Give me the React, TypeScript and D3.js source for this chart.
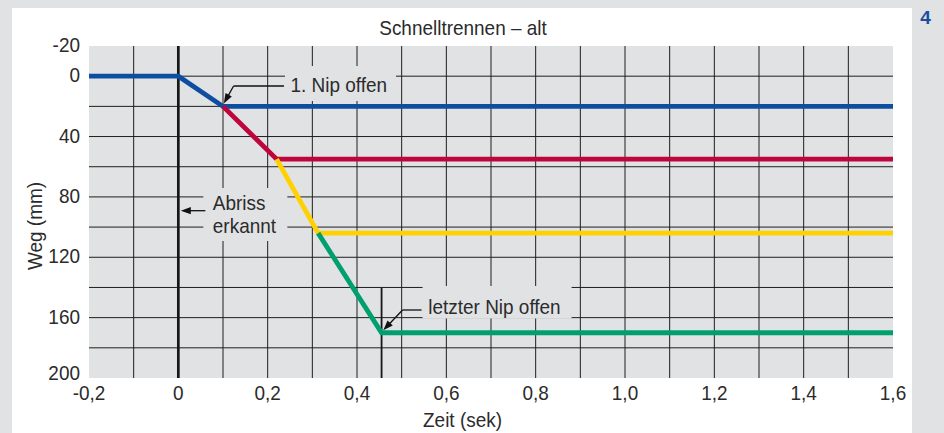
import React from "react";
import * as d3 from "d3";

// ---- data ----
const chartTitle = "Schnelltrennen – alt";
const xAxisTitle = "Zeit (sek)";
const yAxisTitle = "Weg (mm)";
const badge = "4";

const xTickValues = [-0.2, 0, 0.2, 0.4, 0.6, 0.8, 1.0, 1.2, 1.4, 1.6];
const xTickLabels = ["-0,2", "0", "0,2", "0,4", "0,6", "0,8", "1,0", "1,2", "1,4", "1,6"];
const yTickValues = [-20, 0, 40, 80, 120, 160, 200];
const yTickLabels = ["-20", "0", "40", "80", "120", "160", "200"];
const xGridValues = [-0.1, 0.1, 0.2, 0.3, 0.4, 0.5, 0.6, 0.7, 0.8, 0.9, 1.0, 1.1, 1.2, 1.3, 1.4, 1.5];
const yGridValues = [0, 20, 40, 60, 80, 100, 120, 140, 160, 180];

const nip1Time = [-0.2, 0, 0.1, 1.6];
const nip1Weg = [0, 0, 20, 20];
const nip2Time = [0.1, 0.22, 1.6];
const nip2Weg = [20, 55, 55];
const nip3Time = [0.22, 0.313, 1.6];
const nip3Weg = [55, 104, 104];
const nip4Time = [0.313, 0.455, 1.6];
const nip4Weg = [104, 170, 170];

const abrissTime = 0;
const letzterNipTime = 0.455;
const letzterNipFrom = 140;
const annotationNip1 = "1. Nip offen";
const annotationAbriss = ["Abriss", "erkannt"];
const annotationLetzter = "letzter Nip offen";

// ---- layout / style ----
const W = 944;
const H = 433;
const M = { left: 89, right: 893, top: 46, bottom: 378 };
const BG = "#e1e2e4";
const TEXT = "#2b2b2b";
const FONT = "'Liberation Sans', Arial, Helvetica, sans-serif";
const FS = 20.5;
const SX = 0.925;

function T({
  x,
  y,
  anchor = "start",
  rotate = 0,
  children,
}: {
  x: number;
  y: number;
  anchor?: "start" | "middle" | "end";
  rotate?: number;
  children: React.ReactNode;
}) {
  return (
    <text
      transform={`translate(${x},${y}) rotate(${rotate}) scale(${SX},1)`}
      textAnchor={anchor}
      fontFamily={FONT}
      fontSize={FS}
      fill={TEXT}
    >
      {children}
    </text>
  );
}

function Arrow({ x1, y1, x2, y2 }: { x1: number; y1: number; x2: number; y2: number }) {
  const dx = x2 - x1, dy = y2 - y1;
  const len = Math.hypot(dx, dy);
  const ux = dx / len, uy = dy / len;
  const hl = 10, hw = 3.6;
  const bx = x2 - ux * hl, by = y2 - uy * hl;
  const pts = [
    [x2, y2],
    [bx - uy * hw, by + ux * hw],
    [bx + uy * hw, by - ux * hw],
  ];
  return (
    <g>
      <line x1={x1} y1={y1} x2={bx + ux * 2} y2={by + uy * 2} stroke="#111" strokeWidth={1.3} />
      <polygon points={pts.map((p) => p.join(",")).join(" ")} fill="#111" />
    </g>
  );
}

export default function App() {
  const x = d3.scaleLinear().domain([-0.2, 1.6]).range([M.left, M.right]);
  const y = d3.scaleLinear().domain([-20, 200]).range([M.top, M.bottom]);
  const line = d3
    .line<[number, number]>()
    .x((d) => x(d[0]))
    .y((d) => y(d[1]));
  const zip = (t: number[], v: number[]) => t.map((d, i) => [d, v[i]] as [number, number]);

  const series = [
    { pts: zip(nip1Time, nip1Weg), color: "#0e4ea1" },
    { pts: zip(nip2Time, nip2Weg), color: "#bf053d" },
    { pts: zip(nip3Time, nip3Weg), color: "#ffd100" },
    { pts: zip(nip4Time, nip4Weg), color: "#00a06e" },
  ];

  const n1x = x(0.1), n1y = y(20);
  const abx = x(abrissTime);
  const lnx = x(letzterNipTime), lny = y(170);

  return (
    <div style={{ position: "fixed", left: 0, top: 0 }}>
      <svg width={W} height={H} style={{ display: "block" }}>
        <rect x={0} y={0} width={W} height={H} fill={BG} />
        <rect x={12} y={8} width={900} height={H - 8} fill="#ffffff" />
        <rect x={M.left} y={M.top} width={M.right - M.left} height={M.bottom - M.top} fill={BG} />

        {/* grid */}
        {yGridValues.map((v) => (
          <line key={"gy" + v} x1={M.left} x2={M.right} y1={y(v)} y2={y(v)} stroke="#1e1e1e" strokeWidth={1} />
        ))}
        {xGridValues.map((v) => (
          <line key={"gx" + v} x1={x(v)} x2={x(v)} y1={M.top} y2={M.bottom} stroke="#1e1e1e" strokeWidth={1} />
        ))}

        {/* annotation boxes */}
        <rect x={n1x + 62} y={66} width={111} height={35} fill={BG} />
        <rect x={abx + 25} y={188} width={84} height={53} fill={BG} />
        <rect x={lnx + 41} y={286} width={149} height={32.5} fill={BG} />

        {/* markers */}
        <line x1={abx} x2={abx} y1={M.top} y2={M.bottom} stroke="#161616" strokeWidth={2.7} />
        <line x1={lnx} x2={lnx} y1={y(letzterNipFrom)} y2={M.bottom} stroke="#161616" strokeWidth={1.8} />

        {/* series */}
        {series.map((s, i) => (
          <path key={i} d={line(s.pts) || ""} fill="none" stroke={s.color} strokeWidth={4.8} strokeLinejoin="miter" />
        ))}

        {/* annotations */}
        <line x1={n1x + 10.6} x2={n1x + 61} y1={86} y2={86} stroke="#111" strokeWidth={1.3} />
        <Arrow x1={n1x + 10.6} y1={86} x2={n1x + 0.8} y2={n1y - 2.8} />
        <T x={n1x + 67.5} y={91.8}>{annotationNip1}</T>

        <Arrow x1={abx + 27} y1={210.7} x2={abx + 2.5} y2={210.7} />
        <T x={abx + 34.5} y={210.2}>{annotationAbriss[0]}</T>
        <T x={abx + 34.5} y={232.9}>{annotationAbriss[1]}</T>

        <line x1={lnx + 21} x2={lnx + 40} y1={310} y2={310} stroke="#111" strokeWidth={1.3} />
        <Arrow x1={lnx + 21} y1={310} x2={lnx + 1.7} y2={lny - 2.5} />
        <T x={lnx + 46.7} y={313.5}>{annotationLetzter}</T>

        {/* axes labels */}
        {xTickValues.map((v, i) => (
          <T key={"xt" + v} x={x(v)} y={399.8} anchor="middle">
            {xTickLabels[i]}
          </T>
        ))}
        {yTickValues.map((v, i) => (
          <T key={"yt" + v} x={80} y={Math.min(y(v) - 1.2, M.bottom - 5) + 7.2} anchor="end">
            {yTickLabels[i]}
          </T>
        ))}

        <T x={463} y={34.8} anchor="middle">{chartTitle}</T>
        <T x={462.5} y={426.5} anchor="middle">{xAxisTitle}</T>
        <T x={41.5} y={226} anchor="middle" rotate={-90}>{yAxisTitle}</T>

        <text x={925.5} y={23.5} textAnchor="middle" fontFamily={FONT} fontWeight="bold" fontSize={19} fill="#1a4f9f">
          {badge}
        </text>
      </svg>
    </div>
  );
}
